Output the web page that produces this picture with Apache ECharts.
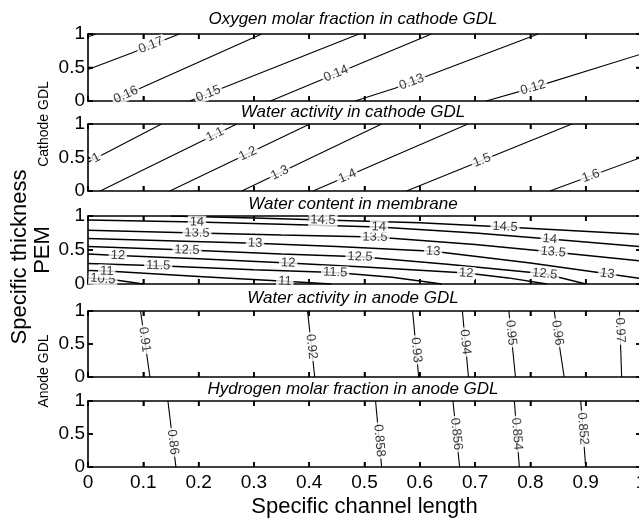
<!DOCTYPE html>
<html>
<head>
<meta charset="utf-8">
<script src="https://cdn.jsdelivr.net/npm/echarts@6/dist/echarts.min.js"></script>
<style>
  html, body { margin: 0; padding: 0; background: #fff; }
  #chart { width: 639px; height: 518px; }
</style>
</head>
<body>
<div id="chart"></div>
<script>
// Panel titles, top to bottom
const panelTitles = [
  'Oxygen molar fraction in cathode GDL',
  'Water activity in cathode GDL',
  'Water content in membrane',
  'Water activity in anode GDL',
  'Hydrogen molar fraction in anode GDL'
];
const xTickValues = [0, 0.1, 0.2, 0.3, 0.4, 0.5, 0.6, 0.7, 0.8, 0.9, 1];
const yTickValues = [0, 0.5, 1];
const yTickLabels = ['0', '0.5', '1'];

// Oxygen molar fraction in cathode GDL: iso-lines as [channel length, thickness] paths
const oxygenLevels = ['0.18', '0.17', '0.16', '0.15', '0.14', '0.13', '0.12'];
const oxygenPaths = [
  [[0, 0.96], [0.015, 1]],
  [[0, 0.47], [0.08, 0.72], [0.165, 1]],
  [[0.043, 0], [0.314, 1]],
  [[0.184, 0], [0.49, 1]],
  [[0.33, 0], [0.621, 1]],
  [[0.483, 0], [0.555, 0.19], [0.814, 1]],
  [[0.72, 0], [0.805, 0.2], [1, 0.7]]
];
const oxygenLabelSpots = [[], [[0.116, 0.79]], [[0.067, 0.12]], [[0.217, 0.12]], [[0.452, 0.34]], [[0.588, 0.22]], [[0.805, 0.19]]];

// Water activity in cathode GDL
const cathodeWaterLevels = ['1', '1.1', '1.2', '1.3', '1.4', '1.5', '1.6'];
const cathodeWaterPaths = [
  [[0, 0.43], [0.133, 1]],
  [[0.022, 0], [0.269, 1]],
  [[0.148, 0], [0.401, 1]],
  [[0.278, 0], [0.531, 1]],
  [[0.407, 0], [0.687, 1]],
  [[0.576, 0], [0.875, 1]],
  [[0.835, 0], [1, 0.5]]
];
const cathodeWaterLabelSpots = [[[0.016, 0.48]], [[0.233, 0.79]], [[0.287, 0.59]], [[0.347, 0.27]], [[0.47, 0.2]], [[0.712, 0.47]], [[0.911, 0.19]]];

// Water content in membrane
const membraneLevels = ['10.5', '11', '11.5', '12', '12.5', '13', '13.5', '14', '14.5'];
const membranePaths = [
  [[0, 0.09], [0.05, 0.06], [0.1, 0]],
  [[0, 0.2], [0.034, 0.19], [0.2, 0.11], [0.356, 0.04], [0.44, 0]],
  [[0, 0.3], [0.127, 0.27], [0.3, 0.21], [0.447, 0.17], [0.55, 0.1], [0.64, 0]],
  [[0, 0.44], [0.054, 0.42], [0.2, 0.37], [0.362, 0.31], [0.5, 0.25], [0.684, 0.16], [0.76, 0.09], [0.83, 0]],
  [[0, 0.55], [0.179, 0.5], [0.35, 0.44], [0.492, 0.4], [0.65, 0.29], [0.826, 0.15], [0.9, 0]],
  [[0, 0.67], [0.302, 0.6], [0.45, 0.55], [0.624, 0.48], [0.8, 0.31], [0.939, 0.15], [1, 0.08]],
  [[0, 0.79], [0.197, 0.75], [0.35, 0.72], [0.519, 0.69], [0.7, 0.58], [0.841, 0.47], [1, 0.34]],
  [[0, 0.94], [0.197, 0.91], [0.35, 0.88], [0.526, 0.84], [0.7, 0.75], [0.835, 0.66], [1, 0.55]],
  [[0.15, 1], [0.3, 0.97], [0.425, 0.94], [0.6, 0.9], [0.754, 0.84], [1, 0.73]]
];
const membraneLabelSpots = [
  [[0.027, 0.07]],
  [[0.034, 0.19], [0.356, 0.04]],
  [[0.127, 0.28], [0.447, 0.18]],
  [[0.054, 0.43], [0.362, 0.31], [0.684, 0.16]],
  [[0.179, 0.5], [0.492, 0.4], [0.826, 0.15]],
  [[0.302, 0.6], [0.624, 0.48], [0.939, 0.15]],
  [[0.197, 0.75], [0.519, 0.69], [0.841, 0.47]],
  [[0.197, 0.91], [0.526, 0.84], [0.835, 0.66]],
  [[0.425, 0.94], [0.754, 0.84]]
];

// Water activity in anode GDL
const anodeWaterLevels = ['0.91', '0.92', '0.93', '0.94', '0.95', '0.96', '0.97'];
const anodeWaterPaths = [
  [[0.095, 1], [0.112, 0]],
  [[0.397, 1], [0.41, 0]],
  [[0.587, 1], [0.598, 0]],
  [[0.677, 1], [0.688, 0]],
  [[0.761, 1], [0.773, 0]],
  [[0.843, 1], [0.861, 0]],
  [[0.961, 1], [0.965, 0]]
];
const anodeWaterLabelSpots = [[[0.104, 0.57]], [[0.403, 0.46]], [[0.593, 0.41]], [[0.683, 0.53]], [[0.765, 0.67]], [[0.85, 0.67]], [[0.963, 0.71]]];

// Hydrogen molar fraction in anode GDL
const hydrogenLevels = ['0.86', '0.858', '0.856', '0.854', '0.852'];
const hydrogenPaths = [
  [[0.1445, 1], [0.159, 0]],
  [[0.52, 1], [0.531, 0]],
  [[0.66, 1], [0.672, 0]],
  [[0.771, 1], [0.78, 0]],
  [[0.891, 1], [0.9, 0]]
];
const hydrogenLabelSpots = [[[0.153, 0.375]], [[0.526, 0.4]], [[0.666, 0.5]], [[0.776, 0.5]], [[0.896, 0.58]]];

const panels = [
  { levels: oxygenLevels, paths: oxygenPaths, spots: oxygenLabelSpots },
  { levels: cathodeWaterLevels, paths: cathodeWaterPaths, spots: cathodeWaterLabelSpots },
  { levels: membraneLevels, paths: membranePaths, spots: membraneLabelSpots },
  { levels: anodeWaterLevels, paths: anodeWaterPaths, spots: anodeWaterLabelSpots },
  { levels: hydrogenLevels, paths: hydrogenPaths, spots: hydrogenLabelSpots }
];

// Layout of the stacked panels (pixels)
const FONT = 'Liberation Sans, Arial, Helvetica, sans-serif';
const plotLeft = 88, plotWidth = 553;
const panelBoxes = [[34, 67], [124, 67], [216, 68], [311, 66], [401, 66]];
const titleOffsets = [15, 12, 12, 13, 12];
const TICK_LEN = 5;

const chart = echarts.init(document.getElementById('chart'), null, { renderer: 'canvas' });

const grids = [], xAxes = [], yAxes = [];
const makeLine = () => ({ show: true, onZero: false, lineStyle: { color: '#000', width: 1.6 } });
const makeTick = () => ({ show: true, inside: true, length: TICK_LEN, lineStyle: { color: '#000', width: 1.5 } });

panelBoxes.forEach(([top, height], i) => {
  grids.push({ left: plotLeft, top: top, width: plotWidth, height: height, containLabel: false, outerBoundsMode: 'none' });
  ['bottom', 'top'].forEach(pos => {
    xAxes.push({
      type: 'value', gridIndex: i, position: pos, min: 0, max: 1, interval: 0.1,
      axisLine: makeLine(), axisTick: makeTick(), splitLine: { show: false },
      axisLabel: {
        show: pos === 'bottom' && i === panelBoxes.length - 1,
        color: '#000', fontFamily: FONT, fontSize: 19, margin: 6,
        formatter: v => String(+v.toFixed(1))
      }
    });
  });
  ['left', 'right'].forEach(pos => {
    yAxes.push({
      type: 'value', gridIndex: i, position: pos, min: 0, max: 1, interval: 0.5,
      axisLine: makeLine(), axisTick: makeTick(), splitLine: { show: false },
      axisLabel: {
        show: pos === 'left', color: '#000', fontFamily: FONT, fontSize: 19, margin: 3,
        formatter: v => yTickLabels[Math.round(v * 2)]
      }
    });
  });
});

// Contour lines
const lineSeries = [];
const contourIndex = [];
panels.forEach((p, i) => {
  p.paths.forEach((path, k) => {
    contourIndex.push({ panel: i, k, seriesIndex: lineSeries.length });
    lineSeries.push({
      type: 'line', xAxisIndex: 2 * i, yAxisIndex: 2 * i, data: path,
      showSymbol: false, symbol: 'none', silent: true, z: 2,
      lineStyle: { color: '#000', width: i === 2 ? 1.5 : 1.1 }
    });
  });
});

// Inward tick marks on all four sides of every box: [kind (0 = x, 1 = y), value, side (0 = low, 1 = high)]
const tickItems = [];
xTickValues.forEach(v => { tickItems.push([0, v, 0]); tickItems.push([0, v, 1]); });
yTickValues.forEach(v => { tickItems.push([1, v, 0]); tickItems.push([1, v, 1]); });
const tickSeries = panels.map((p, i) => ({
  type: 'custom', xAxisIndex: 2 * i, yAxisIndex: 2 * i, silent: true, z: 3, clip: false,
  data: tickItems,
  renderItem: (params, api) => {
    const kind = api.value(0), v = api.value(1), side = api.value(2);
    let a, b;
    if (kind === 0) {
      a = api.coord([v, side]);
      b = [a[0], a[1] + (side === 0 ? -TICK_LEN : TICK_LEN)];
    } else {
      a = api.coord([side, v]);
      b = [a[0] + (side === 0 ? TICK_LEN : -TICK_LEN), a[1]];
    }
    return {
      type: 'line', shape: { x1: a[0], y1: a[1], x2: b[0], y2: b[1] },
      style: { stroke: '#000', lineWidth: 1.5 }
    };
  }
}));

const graphics = [];
panelTitles.forEach((t, i) => {
  graphics.push({
    type: 'text', x: 353, y: panelBoxes[i][0] - titleOffsets[i], silent: true,
    style: { text: t, fill: '#000', font: 'italic 17px ' + FONT, textAlign: 'center', textVerticalAlign: 'middle' }
  });
});
const sideText = (text, x, y, size) => ({
  type: 'text', x, y, rotation: Math.PI / 2, silent: true,
  style: { text, fill: '#000', font: size + 'px ' + FONT, textAlign: 'center', textVerticalAlign: 'middle' }
});
graphics.push(sideText('Cathode GDL', 44, 124, 14));
graphics.push(sideText('Specific thickness', 20, 257, 22));
graphics.push(sideText('PEM', 43, 250, 22));
graphics.push(sideText('Anode GDL', 44, 371, 14));
graphics.push({
  type: 'text', x: plotLeft + plotWidth / 2, y: 507, silent: true,
  style: { text: 'Specific channel length', fill: '#000', font: '22px ' + FONT, textAlign: 'center', textVerticalAlign: 'middle' }
});

chart.setOption({
  animation: false,
  backgroundColor: '#fff',
  grid: grids, xAxis: xAxes, yAxis: yAxes,
  graphic: graphics,
  series: lineSeries
});

// Put each level label on its line, turned along the line's on-screen direction
function placeLabel(seriesIndex, path, spot) {
  const finder = { seriesIndex };
  const pts = path.map(p => chart.convertToPixel(finder, p));
  const s = chart.convertToPixel(finder, spot);
  let best = null;
  for (let k = 0; k < pts.length - 1; k++) {
    const a = pts[k], b = pts[k + 1];
    const dx = b[0] - a[0], dy = b[1] - a[1];
    const len2 = dx * dx + dy * dy;
    let t = ((s[0] - a[0]) * dx + (s[1] - a[1]) * dy) / len2;
    t = Math.max(0, Math.min(1, t));
    const q = [a[0] + t * dx, a[1] + t * dy];
    const d = (q[0] - s[0]) ** 2 + (q[1] - s[1]) ** 2;
    if (!best || d < best.d) best = { d, q, dx, dy };
  }
  let ang = Math.atan2(-best.dy, best.dx) * 180 / Math.PI;
  if (ang > 90) ang -= 180;
  if (ang <= -90) ang += 180;
  return { value: chart.convertFromPixel(finder, best.q), rotate: ang };
}

const labelSeries = panels.map((p, i) => {
  const data = [];
  contourIndex.filter(c => c.panel === i).forEach(c => {
    p.spots[c.k].forEach(spot => {
      const r = placeLabel(c.seriesIndex, p.paths[c.k], spot);
      data.push({ name: p.levels[c.k], value: r.value, label: { rotate: r.rotate } });
    });
  });
  return {
    type: 'scatter', xAxisIndex: 2 * i, yAxisIndex: 2 * i, data,
    symbolSize: 1, itemStyle: { color: 'transparent' }, silent: true, z: 10,
    label: {
      show: true, position: 'inside', formatter: '{b}', color: '#000',
      textBorderWidth: 0, fontFamily: FONT, fontSize: 13, backgroundColor: '#fff', padding: [0, 2]
    }
  };
});

chart.setOption({ series: lineSeries.concat(tickSeries, labelSeries) });
</script>
</body>
</html>
